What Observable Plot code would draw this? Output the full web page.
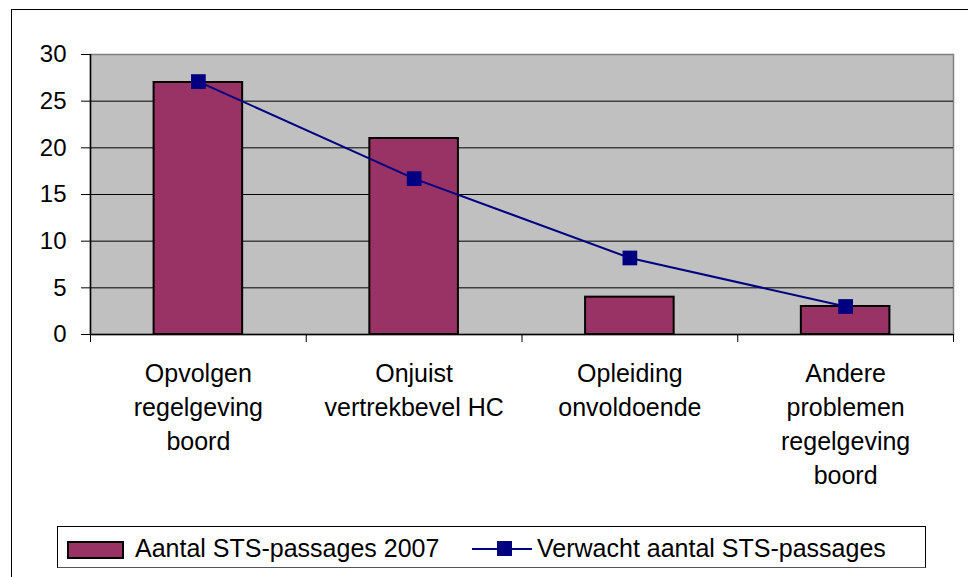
<!DOCTYPE html>
<html>
<head>
<meta charset="utf-8">
<script src="https://cdn.jsdelivr.net/npm/d3@7"></script>
<script src="https://cdn.jsdelivr.net/npm/@observablehq/plot@0.6"></script>
<style>
  html, body { margin: 0; padding: 0; background: #fff; }
  #wrap { position: relative; width: 968px; height: 577px; overflow: hidden; font-family: Arial, "Liberation Sans", sans-serif; }
  #outer { position: absolute; left: 11px; top: 9px; width: 1000px; height: 600px; border-left: 1px solid #000; border-top: 1px solid #000; }
  #chart { position: absolute; left: 0; top: 0; }
  #legend { position: absolute; left: 57px; top: 526px; width: 869px; height: 42px; box-sizing: border-box; border: 1px solid #000; border-bottom-color: #555; background: #fff; }
  .lg-text { position: absolute; top: 9px; font-size: 25px; line-height: 25px; color: #000; white-space: nowrap; }
  .swatch { position: absolute; left: 9px; top: 14px; width: 57px; height: 18px; box-sizing: border-box; background: #993366; border: 2px solid #000; }
  .lline { position: absolute; left: 414px; top: 21px; width: 60px; height: 2px; background: #000080; }
  .lmark { position: absolute; left: 439px; top: 14px; width: 15px; height: 15px; background: #000080; }
</style>
</head>
<body>
<div id="wrap">
  <div id="outer"></div>
  <div id="chart"></div>
  <div id="legend"></div>
</div>
<script>
const categories = [
  "Opvolgen\nregelgeving\nboord",
  "Onjuist\nvertrekbevel HC",
  "Opleiding\nonvoldoende",
  "Andere\nproblemen\nregelgeving\nboord"
];
const actual = [27, 21, 4, 3];
const expected = [27.1, 16.7, 8.2, 3.0];
const yTicks = [0, 5, 10, 15, 20, 25, 30];
const seriesNames = ["Aantal STS-passages 2007", "Verwacht aantal STS-passages"];

const data = categories.map((c, i) => ({i, cat: c, actual: actual[i], expected: expected[i]}));
const boundaries = d3.range(categories.length + 1);

const chart = Plot.plot({
  width: 968,
  height: 520,
  marginLeft: 90,
  marginRight: 15,
  marginTop: 54,
  marginBottom: 186,
  style: {fontFamily: "Arial, 'Liberation Sans', sans-serif", fontSize: "24px", color: "#000", background: "transparent", overflow: "visible"},
  x: {domain: [0, categories.length], axis: null},
  y: {domain: [0, 30], axis: null},
  marks: [
    Plot.frame({fill: "#C0C0C0", stroke: "#808080", strokeWidth: 1.5}),
    Plot.ruleY(yTicks.filter(d => d > 0 && d < 30), {stroke: "#000", strokeWidth: 1}),
    Plot.rectY(data, {x1: d => d.i, x2: d => d.i + 1, y: "actual", insetLeft: 63.6, insetRight: 63.6, fill: "#993366", stroke: "#000", strokeWidth: 2}),
    Plot.line(data, {x: d => d.i + 0.5, y: "expected", stroke: "#000080", strokeWidth: 2}),
    Plot.dot(data, {x: d => d.i + 0.5, y: "expected", symbol: "square", r: 8.3, fill: "#000080", stroke: "none"}),
    Plot.ruleY([0], {stroke: "#000", strokeWidth: 1.5}),
    Plot.ruleX([0], {y1: 0, y2: 30, stroke: "#000", strokeWidth: 1.5}),
    Plot.axisY({ticks: yTicks, tickSize: 9, tickPadding: 15, fontSize: 24, stroke: "#000"}),
    Plot.axisX({ticks: boundaries, tickSize: 8, tickFormat: () => "", stroke: "#000"}),
    Plot.text(data, {x: d => d.i + 0.5, y: 0, text: "cat", lineAnchor: "top", dy: 24, lineHeight: 1.35, fontSize: 25, fill: "#000", textAnchor: "middle"})
  ]
});
document.getElementById("chart").appendChild(chart);

const legend = document.getElementById("legend");
legend.innerHTML = `
  <div class="swatch"></div>
  <span class="lg-text" style="left:77px">${seriesNames[0]}</span>
  <div class="lline"></div>
  <div class="lmark"></div>
  <span class="lg-text" style="left:479px">${seriesNames[1]}</span>
`;
</script>
</body>
</html>
